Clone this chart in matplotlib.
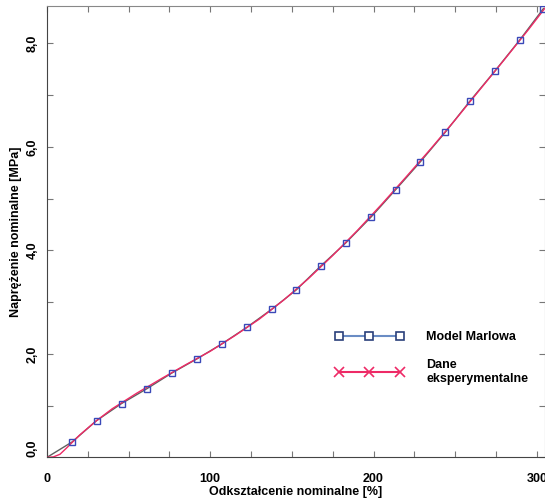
import matplotlib
matplotlib.use("Agg")
import matplotlib.pyplot as plt
from matplotlib.lines import Line2D
from matplotlib.ticker import MultipleLocator

plt.rcParams['font.family'] = ['Liberation Sans', 'DejaVu Sans']
plt.rcParams['font.weight'] = 'bold'

# Model Marlowa (squares)
model_x = [0, 15.5, 30.4, 45.7, 61.4, 76.5, 91.7, 107.0, 122.3, 137.6, 152.5,
           167.8, 182.9, 198.4, 213.5, 228.4, 243.9, 259.2, 274.5, 289.7, 304.0]
model_y = [0.0, 0.30, 0.71, 1.04, 1.33, 1.63, 1.90, 2.19, 2.51, 2.86, 3.23,
           3.70, 4.14, 4.64, 5.17, 5.70, 6.28, 6.89, 7.47, 8.07, 8.67]

# Dane eksperymentalne
exp_x = [0, 4, 8, 12, 20, 30, 40, 55, 70, 85, 100, 115, 130, 145, 160, 175,
         190, 205, 220, 235, 250, 265, 280, 295, 306]
exp_y = [0.0, 0.01, 0.06, 0.18, 0.43, 0.70, 0.94, 1.24, 1.52, 1.79, 2.05, 2.35,
         2.67, 3.04, 3.45, 3.90, 4.38, 4.89, 5.42, 5.96, 6.52, 7.10, 7.68, 8.27, 8.72]

xticks = [0, 100, 200, 300]
yticks = [0, 2, 4, 6, 8]
ytick_labels = ['0,0', '2,0', '4,0', '6,0', '8,0']

blue_line = '#6a8cc4'
blue_mark = '#3a48b8'
red = '#ee2a66'

fig = plt.figure(figsize=(5.45, 5.01), dpi=100)
ax = fig.add_axes([0.086, 0.087, 0.914, 0.901])

ax.plot(model_x, model_y, color='#606060', lw=1.0, zorder=2)
ax.plot(exp_x, exp_y, color=red, lw=1.0, zorder=3)
ax.plot(model_x[1:], model_y[1:], ls='none', marker='s', ms=4.5,
        mfc='none', mec=blue_mark, mew=1.0, zorder=4)

ax.set_xlim(0, 305)
ax.set_ylim(0, 8.72)

ax.set_xticks([t for t in range(0, 301, 25)])
ax.set_xticklabels([str(t) if t in xticks else '' for t in range(0, 301, 25)],
                   fontsize=9, fontweight='bold')
ax.set_yticks(range(0, 9))
ax.set_yticklabels([ytick_labels[yticks.index(t)] if t in yticks else '' for t in range(0, 9)],
                   fontsize=9, fontweight='bold', rotation=90, va='center')
ax.get_yticklabels()[0].set_va('bottom')

ax.tick_params(axis='both', direction='in', length=4, width=0.8, color='#777777',
               top=True, right=True)
ax.tick_params(axis='x', pad=11)
ax.tick_params(axis='y', pad=6)

for side in ['left', 'bottom']:
    ax.spines[side].set_color('#444444')
for side in ['top', 'right']:
    ax.spines[side].set_color('#888888')

ax.set_xlabel('Odkształcenie nominalne [%]', fontsize=9, fontweight='bold', labelpad=1)
ax.set_ylabel('Naprężenie nominalne [MPa]', fontsize=9, fontweight='bold', labelpad=3)

handles = [
    Line2D([], [], color=blue_line, lw=1.5, marker='s', ms=6, mfc='white',
           mec='#2a3f7a', mew=1.2),
    Line2D([], [], color=red, lw=1.5, marker='x', ms=7, mew=1.2),
]
ax.legend(handles, ['Model Marlowa', 'Dane\neksperymentalne'], numpoints=3,
          handlelength=5.5, handletextpad=1.8, labelspacing=1.3, frameon=False,
          prop={'size': 9, 'weight': 'bold'}, loc='lower left',
          bbox_to_anchor=(0.556, 0.135))

fig.savefig('out.png', dpi=100)
